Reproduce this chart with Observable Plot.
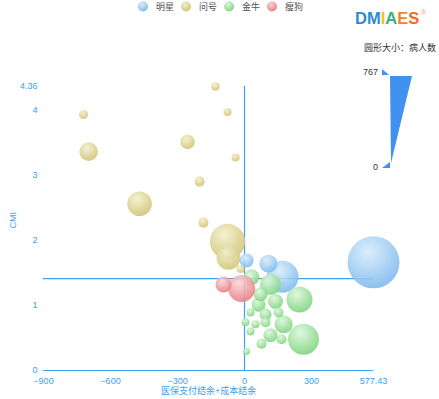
<!DOCTYPE html>
<html><head><meta charset="utf-8">
<script src="https://cdn.jsdelivr.net/npm/d3@7"></script>
<script src="https://cdn.jsdelivr.net/npm/@observablehq/plot@0.6"></script>
<style>
html,body{margin:0;padding:0;background:#fff;}
#chart{position:relative;width:439px;height:399px;overflow:hidden;}
svg{display:block;}
</style></head><body><div id="chart"></div>
<script>
// ---- data ----
const categories = ["明星", "问号", "金牛", "瘦狗"];

const starX = [577.43, 9, 107, 170];
const starY = [1.66, 1.69, 1.64, 1.44];
const starN = [767, 207, 266, 472];

const questionX = [-130, -721, -76, -698, -255, -40, -201, -470, -184, -76, -72, -18];
const questionY = [4.36, 3.93, 3.97, 3.36, 3.51, 3.27, 2.90, 2.56, 2.27, 1.98, 1.73, 1.56];
const questionN = [127, 133, 118, 274, 215, 118, 148, 363, 148, 522, 354, 118];

const cowX = [31, 116, 246, 264, 63, 139, 27, 94, 152, 4, 49, 94, 175, 27, 116, 166, 76, 9, 72];
const cowY = [1.43, 1.32, 1.09, 0.48, 1.01, 1.06, 0.89, 0.86, 0.89, 0.74, 0.71, 0.74, 0.71, 0.60, 0.54, 0.48, 0.41, 0.29, 1.17];
const cowN = [236, 310, 384, 457, 207, 221, 118, 177, 148, 118, 118, 148, 266, 118, 207, 148, 148, 103, 207];

const dogX = [-94, -13];
const dogY = [1.32, 1.26];
const dogN = [236, 398];

const xTicks = [-900, -600, -300, 0, 300, 577.43];
const yTicks = [0, 1, 2, 3, 4, 4.36];
const xTitle = "医保支付结余+成本结余";
const yTitle = "CMI";
const avgX = 0;
const avgY = 1.41;
const maxPatients = 767;
const sizeTitle = "圆形大小：病人数";

// ---- styles ----
const gradStops = [
  ["#d8ecfb", "#82bdee"],
  ["#f3efcc", "#d2c67a"],
  ["#dcf6dc", "#82d682"],
  ["#fbd6d7", "#e8828a"]
];
const blue = "#3ca0ef";
const font = "Helvetica, Arial, 'Liberation Sans', 'Noto Sans CJK SC', sans-serif";

const series = [[starX, starY, starN], [questionX, questionY, questionN], [cowX, cowY, cowN], [dogX, dogY, dogN]];
const rows = series.map(([xs, ys, ns], i) => xs.map((x, j) => ({cat: categories[i], x, y: ys[j], n: ns[j]})));

const svg = Plot.plot({
  width: 439, height: 399,
  marginLeft: 43, marginRight: 66, marginTop: 86, marginBottom: 29,
  style: {fontFamily: font, background: "#fff", overflow: "visible"},
  x: {domain: [xTicks[0], xTicks[xTicks.length - 1]]},
  y: {domain: [yTicks[0], yTicks[yTicks.length - 1]]},
  r: {type: "linear", domain: [0, maxPatients], range: [0, 26]},
  marks: [
    Plot.axisX({ticks: xTicks, tickSize: 0, tickPadding: 7, fill: blue, fontSize: 9, label: null,
      tickFormat: d => String(d).replace("-", "−")}),
    Plot.axisY({ticks: yTicks, tickSize: 0, tickPadding: 6, fill: blue, fontSize: 9, label: null,
      tickFormat: d => String(d)}),
    Plot.ruleY([0], {stroke: blue, strokeWidth: 1.2}),
    Plot.ruleX([avgX], {stroke: blue, strokeWidth: 1.2}),
    Plot.ruleY([avgY], {stroke: blue, strokeWidth: 1.2}),
    ...rows.map((data, i) => Plot.dot(data, {x: "x", y: "y", r: "n", fill: `url(#bubble${i})`, fillOpacity: 0.9, stroke: "none"})),
    Plot.text([xTitle], {frameAnchor: "bottom", dy: 23.5, fill: blue, fontSize: 9}),
    Plot.text([yTitle], {frameAnchor: "left", dx: -30, rotate: -90, fill: blue, fontSize: 9})
  ]
});

document.getElementById("chart").appendChild(svg);

const s = d3.select(svg);
const defs = s.insert("defs", ":first-child");
gradStops.forEach(([a, b], i) => {
  const g = defs.append("radialGradient").attr("id", "bubble" + i)
    .attr("cx", 0.4).attr("cy", 0.3).attr("fx", 0.4).attr("fy", 0.3).attr("r", 0.68);
  g.append("stop").attr("offset", 0).attr("stop-color", a);
  g.append("stop").attr("offset", 1).attr("stop-color", b);
});

// top legend
const leg = s.append("g").attr("font-family", font).attr("font-size", 9).attr("fill", "#555").attr("text-anchor", "start");
const legX = [143, 186, 229, 272];
categories.forEach((c, i) => {
  leg.append("circle").attr("cx", legX[i]).attr("cy", 6.5).attr("r", 5).attr("fill", `url(#bubble${i})`);
  leg.append("text").attr("x", legX[i] + 13).attr("y", 10).text(c);
});

// logo
const logo = s.append("text").attr("x", 355).attr("y", 24).attr("text-anchor", "start")
  .attr("font-family", "Arial, 'Liberation Sans', sans-serif")
  .attr("font-weight", "bold").attr("font-size", 16.5);
[["D", "#2a8bd3"], ["M", "#2a8bd3"], ["I", "#f2c21a"], ["A", "#3aae7e"], ["E", "#f08424"], ["S", "#ee6a2a"]]
  .forEach(([t, c]) => logo.append("tspan").attr("fill", c).text(t));
s.append("text").attr("x", 421).attr("y", 15).attr("text-anchor", "start").attr("font-size", 7)
  .attr("fill", "#f2a070").attr("font-family", font).text("®");

// size legend
s.append("text").attr("x", 436).attr("y", 51).attr("text-anchor", "end").attr("font-family", font)
  .attr("font-size", 9).attr("fill", "#333").text(sizeTitle);
s.append("polygon").attr("points", "390,76 412,76 391,163").attr("fill", "#4191f0");
s.append("polygon").attr("points", "382,69 389,75 382,75").attr("fill", "#4191f0");
s.append("polygon").attr("points", "382,168 390,162 390,168").attr("fill", "#4191f0");
s.append("text").attr("x", 378).attr("y", 75).attr("text-anchor", "end").attr("font-family", font)
  .attr("font-size", 9).attr("fill", "#333").text(String(maxPatients));
s.append("text").attr("x", 378).attr("y", 170).attr("text-anchor", "end").attr("font-family", font)
  .attr("font-size", 9).attr("fill", "#333").text("0");
</script></body></html>
